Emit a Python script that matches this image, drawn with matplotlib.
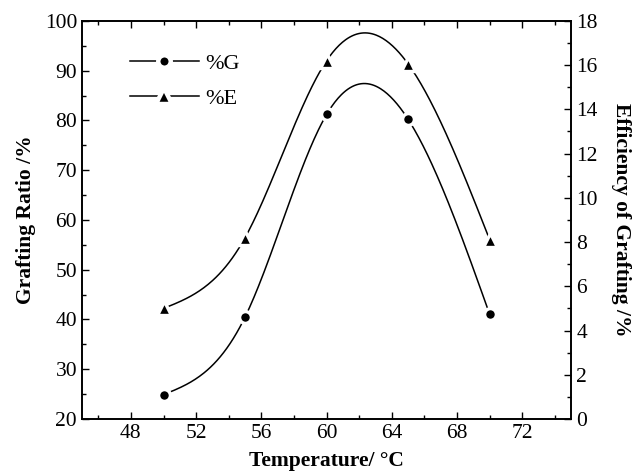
import numpy as np
import matplotlib
matplotlib.use("Agg")
import matplotlib.pyplot as plt

# data
temperature = [50, 55, 60, 65, 70]
grafting_ratio = [24.9, 40.5, 81.2, 80.2, 41.0]      # %G, left axis
grafting_eff = [5.0, 8.2, 16.2, 16.05, 8.1]          # %E, right axis


# natural cubic spline, for the smooth curve through the points
def spline(x, y, xs):
	x = np.asarray(x, float)
	y = np.asarray(y, float)
	n = len(x)
	h = np.diff(x)
	A = np.zeros((n, n))
	b = np.zeros(n)
	A[0, 0] = 1
	A[-1, -1] = 1
	for i in range(1, n - 1):
		A[i, i - 1] = h[i - 1]
		A[i, i] = 2 * (h[i - 1] + h[i])
		A[i, i + 1] = h[i]
		b[i] = 3 * ((y[i + 1] - y[i]) / h[i] - (y[i] - y[i - 1]) / h[i - 1])
	c = np.linalg.solve(A, b)
	out = np.zeros_like(xs)
	for k, t in enumerate(xs):
		i = min(np.searchsorted(x, t, side="right") - 1, n - 2)
		dx = t - x[i]
		bi = (y[i + 1] - y[i]) / h[i] - h[i] * (2 * c[i] + c[i + 1]) / 3
		di = (c[i + 1] - c[i]) / (3 * h[i])
		out[k] = y[i] + bi * dx + c[i] * dx ** 2 + di * dx ** 3
	return out


plt.rcParams["font.family"] = ["Liberation Serif", "DejaVu Serif"]

fig = plt.figure(figsize=(6.33, 4.74), dpi=100)
ax = fig.add_axes([0.1295, 0.116, 0.773, 0.840])
ax2 = ax.twinx()

xs = np.linspace(temperature[0], temperature[-1], 300)

# white marker edges leave the little gap round each point
ax.plot(xs, spline(temperature, grafting_ratio, xs), color="black", lw=1.1)
ax.plot(temperature, grafting_ratio, "o", color="black", ms=8.5,
	mec="white", mew=2.4)
ax2.plot(xs, spline(temperature, grafting_eff, xs), color="black", lw=1.1)
ax2.plot(temperature, grafting_eff, "^", color="black", ms=10,
	mec="white", mew=2.4)

# legend handles (line - marker - line)
hG, = ax.plot([], [], "-o", color="black", lw=1.1, ms=9, mec="white", mew=3.2)
hE, = ax.plot([], [], "-^", color="black", lw=1.1, ms=11, mec="white", mew=3.2)
ax.legend([hG, hE], ["%G", "%E"], loc="upper left", frameon=False,
	fontsize=16, handlelength=3.1, handletextpad=0.3, labelspacing=0.65,
	bbox_to_anchor=(0.08, 0.94), borderaxespad=0)

ax.set_xlim(45, 75)
ax.set_ylim(20, 100)
ax2.set_ylim(0, 18)
ax.set_xticks([48, 52, 56, 60, 64, 68, 72])
ax.set_xticks(np.arange(46, 75, 2), minor=True)
ax.set_yticks(np.arange(20, 101, 10))
ax.set_yticks(np.arange(25, 100, 10), minor=True)
ax2.set_yticks(np.arange(0, 19, 2))
ax2.set_yticks(np.arange(1, 18, 2), minor=True)

ax.tick_params(which="both", direction="in", top=True, right=False,
	labelsize=15.5, width=1.0, color="black")
ax.tick_params(which="major", length=5)
ax.tick_params(which="minor", length=3)
ax2.tick_params(which="both", direction="in", labelsize=15.5, width=1.0)
ax2.tick_params(which="major", length=5)
ax2.tick_params(which="minor", length=3)

for a in (ax, ax2):
	for s in a.spines.values():
		s.set_linewidth(1.2)

ax.set_xlabel("Temperature/ °C", fontsize=15.5, fontweight="bold", labelpad=6)
ax.set_ylabel("Grafting Ratio /%", fontsize=15.5, fontweight="bold", labelpad=6)
ax2.set_ylabel("Efficiency of Grafting /%", fontsize=15.5, fontweight="bold",
	rotation=-90, labelpad=24)

fig.savefig("out.png", dpi=100)
